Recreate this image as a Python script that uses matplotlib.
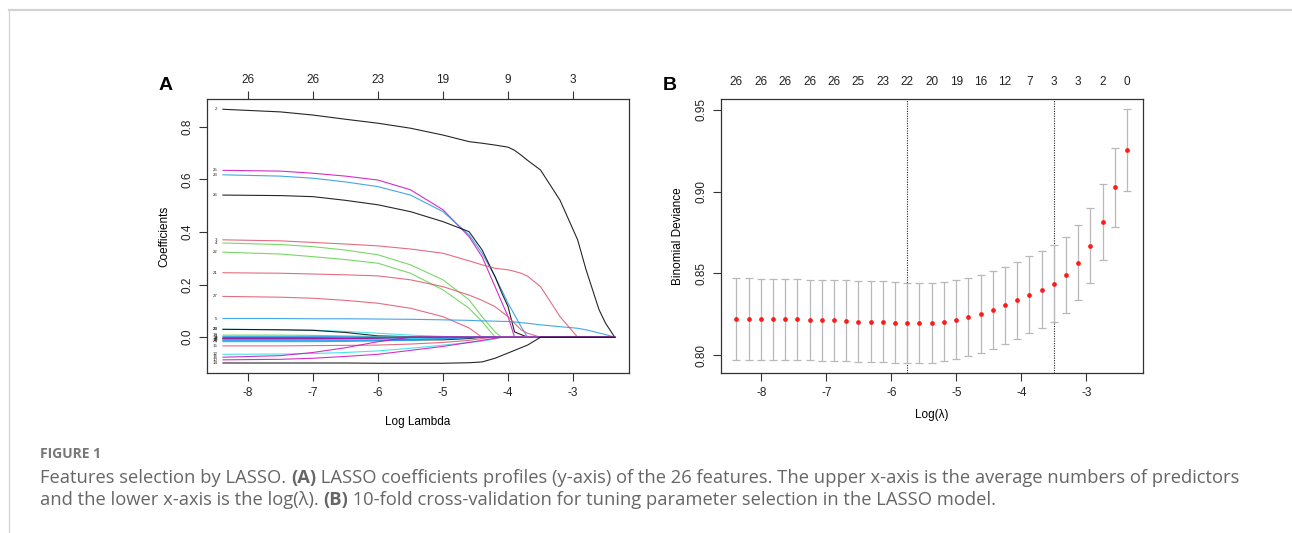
import matplotlib
matplotlib.use("Agg")
import matplotlib.pyplot as plt
import numpy as np

# couleurs de la palette R (matplot)
BLACK = "#000000"
RED = "#DF536B"
GREEN = "#61D04F"
BLUE = "#2297E6"
CYAN = "#28E2E5"
MAGENTA = "#CD0BBC"

# ---- panneau A : profils des coefficients LASSO ----
lam_a = [-8.385, -7.5, -7.0, -6.5, -6.0, -5.5, -5.0, -4.6, -4.4, -4.2, -4.1,
         -4.0, -3.9, -3.8, -3.7, -3.5, -3.2, -2.93, -2.8, -2.6, -2.5, -2.36]

coef_labels = ["2", "25", "23", "26", "3", "4", "22", "21", "27", "5", "28", "20",
               "18", "1", "19", "9", "8", "11", "24", "7", "6",
               "15", "12", "16", "10", "14"]
coef_colors = [BLACK, MAGENTA, BLUE, BLACK, RED, GREEN, GREEN, RED, RED, BLUE, CYAN, BLACK,
               GREEN, BLUE, MAGENTA, BLACK, BLUE, CYAN, BLUE, BLUE, MAGENTA,
               RED, CYAN, MAGENTA, MAGENTA, BLACK]
coefs = [
    [0.866, 0.856, 0.844, 0.828, 0.813, 0.794, 0.768, 0.743, 0.737, 0.730, 0.726,
     0.722, 0.710, 0.692, 0.672, 0.635, 0.520, 0.370, 0.256, 0.104, 0.053, 0.0],
    [0.634, 0.631, 0.623, 0.612, 0.597, 0.560, 0.484, 0.382, 0.306, 0.192, 0.135,
     0.078, 0.0, 0, 0, 0, 0, 0, 0, 0, 0, 0],
    [0.617, 0.612, 0.604, 0.590, 0.572, 0.540, 0.477, 0.389, 0.319, 0.230, 0.180,
     0.129, 0.085, 0.040, 0.0, 0, 0, 0, 0, 0, 0, 0],
    [0.540, 0.538, 0.534, 0.520, 0.503, 0.477, 0.439, 0.401, 0.332, 0.230, 0.170,
     0.116, 0.020, 0.010, 0.0, 0, 0, 0, 0, 0, 0, 0],
    [0.370, 0.366, 0.360, 0.354, 0.347, 0.335, 0.319, 0.290, 0.275, 0.262, 0.259,
     0.256, 0.250, 0.243, 0.232, 0.192, 0.078, 0.0, 0, 0, 0, 0],
    [0.358, 0.352, 0.344, 0.331, 0.313, 0.275, 0.218, 0.142, 0.078, 0.020, 0.0,
     0, 0, 0, 0, 0, 0, 0, 0, 0, 0, 0],
    [0.323, 0.316, 0.306, 0.295, 0.281, 0.243, 0.180, 0.110, 0.060, 0.0, 0,
     0, 0, 0, 0, 0, 0, 0, 0, 0, 0, 0],
    [0.245, 0.243, 0.240, 0.237, 0.233, 0.218, 0.192, 0.160, 0.140, 0.116, 0.097,
     0.078, 0.053, 0.028, 0.015, 0.0, 0, 0, 0, 0, 0, 0],
    [0.155, 0.152, 0.148, 0.140, 0.129, 0.110, 0.078, 0.035, 0.0, 0, 0,
     0, 0, 0, 0, 0, 0, 0, 0, 0, 0, 0],
    [0.071, 0.071, 0.070, 0.070, 0.069, 0.068, 0.066, 0.064, 0.062, 0.061, 0.060,
     0.060, 0.058, 0.055, 0.053, 0.047, 0.040, 0.034, 0.028, 0.016, 0.010, 0.0],
    [0.030, 0.029, 0.027, 0.022, 0.015, 0.008, 0.003, 0.0, 0, 0, 0,
     0, 0, 0, 0, 0, 0, 0, 0, 0, 0, 0],
    [0.030, 0.028, 0.026, 0.018, 0.005, 0.002, 0.0, 0, 0, 0, 0,
     0, 0, 0, 0, 0, 0, 0, 0, 0, 0, 0],
    [0.008, 0.008, 0.007, 0.005, 0.003, 0.001, 0.0, 0, 0, 0, 0,
     0, 0, 0, 0, 0, 0, 0, 0, 0, 0, 0],
    [0.003, 0.003, 0.003, 0.002, 0.001, 0.0, 0, 0, 0, 0, 0,
     0, 0, 0, 0, 0, 0, 0, 0, 0, 0, 0],
    [-0.002, -0.002, -0.002, -0.002, -0.001, 0.0, 0, 0, 0, 0, 0,
     0, 0, 0, 0, 0, 0, 0, 0, 0, 0, 0],
    [-0.004, -0.004, -0.004, -0.005, -0.006, -0.010, -0.010, -0.005, 0.0, 0, 0,
     0, 0, 0, 0, 0, 0, 0, 0, 0, 0, 0],
    [-0.008, -0.008, -0.008, -0.008, -0.007, -0.005, -0.002, 0.0, 0, 0, 0,
     0, 0, 0, 0, 0, 0, 0, 0, 0, 0, 0],
    [-0.011, -0.011, -0.010, -0.010, -0.009, -0.006, -0.003, 0.0, 0, 0, 0,
     0, 0, 0, 0, 0, 0, 0, 0, 0, 0, 0],
    [-0.013, -0.013, -0.013, -0.013, -0.013, -0.012, -0.007, -0.002, 0.0, 0, 0,
     0, 0, 0, 0, 0, 0, 0, 0, 0, 0, 0],
    [-0.017, -0.017, -0.017, -0.016, -0.014, -0.010, -0.004, 0.0, 0, 0, 0,
     0, 0, 0, 0, 0, 0, 0, 0, 0, 0, 0],
    [-0.006, -0.006, -0.006, -0.005, -0.003, -0.001, 0.0, 0, 0, 0, 0,
     0, 0, 0, 0, 0, 0, 0, 0, 0, 0, 0],
    [-0.033, -0.033, -0.032, -0.031, -0.030, -0.026, -0.020, -0.012, -0.005, 0.0, 0,
     0, 0, 0, 0, 0, 0, 0, 0, 0, 0, 0],
    [-0.065, -0.064, -0.062, -0.058, -0.052, -0.042, -0.030, -0.020, -0.015, -0.007, 0.0,
     0, 0, 0, 0, 0, 0, 0, 0, 0, 0, 0],
    [-0.076, -0.070, -0.058, -0.040, -0.017, 0.0, 0, 0, 0, 0, 0,
     0, 0, 0, 0, 0, 0, 0, 0, 0, 0, 0],
    [-0.086, -0.084, -0.080, -0.073, -0.065, -0.050, -0.035, -0.020, -0.012, -0.004, 0.0,
     0, 0, 0, 0, 0, 0, 0, 0, 0, 0, 0],
    [-0.098, -0.098, -0.098, -0.098, -0.099, -0.099, -0.099, -0.097, -0.094, -0.080, -0.070,
     -0.060, -0.050, -0.040, -0.030, 0.0, 0, 0, 0, 0, 0, 0],
]
top_ticks_a = [-8, -7, -6, -5, -4, -3]
top_labels_a = ["26", "26", "23", "19", "9", "3"]

# ---- panneau B : validation croisée ----
lam_b = [-8.385, -8.197, -8.009, -7.822, -7.634, -7.446, -7.258, -7.070, -6.882,
         -6.695, -6.507, -6.319, -6.131, -5.943, -5.755, -5.568, -5.380, -5.192,
         -5.004, -4.816, -4.628, -4.441, -4.253, -4.065, -3.877, -3.689, -3.501,
         -3.314, -3.126, -2.938, -2.750, -2.562, -2.375]
dev_mean = [0.8222, 0.8222, 0.8220, 0.8220, 0.8218, 0.8218, 0.8216, 0.8214, 0.8212,
            0.8208, 0.8204, 0.8202, 0.8200, 0.8198, 0.8196, 0.8196, 0.8198, 0.8204,
            0.8214, 0.8231, 0.8251, 0.8276, 0.8304, 0.8337, 0.8367, 0.8400, 0.8437,
            0.8490, 0.8565, 0.8669, 0.8812, 0.9027, 0.9255]
dev_up = [0.8471, 0.8469, 0.8467, 0.8465, 0.8463, 0.8463, 0.8461, 0.8459, 0.8459,
          0.8457, 0.8455, 0.8453, 0.8451, 0.8447, 0.8443, 0.8441, 0.8441, 0.8447,
          0.8457, 0.8471, 0.8490, 0.8512, 0.8539, 0.8571, 0.8604, 0.8635, 0.8671,
          0.8720, 0.8796, 0.8900, 0.9047, 0.9267, 0.9506]
dev_lo = [0.7971, 0.7971, 0.7971, 0.7969, 0.7969, 0.7967, 0.7967, 0.7965, 0.7965,
          0.7961, 0.7959, 0.7957, 0.7955, 0.7951, 0.7951, 0.7951, 0.7953, 0.7961,
          0.7973, 0.7994, 0.8012, 0.8039, 0.8067, 0.8100, 0.8133, 0.8165, 0.8204,
          0.8257, 0.8337, 0.8441, 0.8580, 0.8784, 0.9004]
top_labels_b = ["26", "26", "26", "26", "26", "25", "23", "22", "20", "19", "16",
                "12", "7", "3", "3", "2", "0"]
idx_min = 14
idx_1se = 26

caption_title = "FIGURE 1"
caption_lines = [
    [("Features selection by LASSO. ", "normal"), ("(A)", "bold"),
     (" LASSO coefficients profiles (y-axis) of the 26 features. The upper x-axis is the average numbers of predictors", "normal")],
    [("and the lower x-axis is the log(\u03bb). ", "normal"), ("(B)", "bold"),
     (" 10-fold cross-validation for tuning parameter selection in the LASSO model.", "normal")],
]

plt.rcParams["font.family"] = ["Liberation Sans", "DejaVu Sans"]
plt.rcParams["axes.unicode_minus"] = False
W, H = 1292, 533
fig = plt.figure(figsize=(W / 100, H / 100), dpi=100)

AX_COL = "#333333"
TICK_FS = 8.5


def style_axes(ax):
    for s in ax.spines.values():
        s.set_color(AX_COL)
        s.set_linewidth(0.9)
    ax.tick_params(direction="out", length=6, width=0.8, color=AX_COL,
                   labelsize=TICK_FS, labelcolor="#222222", pad=4)
    for lab in ax.get_yticklabels():
        lab.set_rotation(90)
        lab.set_va("center")


# panneau A
axA = fig.add_axes([207 / W, 1 - 373 / H, 422 / W, 274 / H])
lam = np.array(lam_a)
for lab, col, vals in zip(coef_labels, coef_colors, coefs):
    axA.plot(lam, vals, color=col, lw=0.8, alpha=0.85)
    axA.text(-8.47, vals[0], lab, fontsize=3.2, ha="right", va="center", color="#222222")
axA.set_xlim(-8.63, -2.14)
axA.set_ylim(-0.136, 0.905)
axA.set_xticks([-8, -7, -6, -5, -4, -3])
axA.set_yticks([0.0, 0.2, 0.4, 0.6, 0.8])
axA.set_yticklabels(["0.0", "0.2", "0.4", "0.6", "0.8"])
style_axes(axA)
axA.set_xlabel("Log Lambda", fontsize=TICK_FS, labelpad=12)
axA.set_ylabel("Coefficients", fontsize=TICK_FS, labelpad=8)
topA = axA.secondary_xaxis("top")
topA.set_xticks(top_ticks_a)
topA.set_xticklabels(top_labels_a)
topA.tick_params(direction="out", length=6, width=0.8, color=AX_COL,
                 labelsize=TICK_FS, labelcolor="#222222", pad=3)
topA.spines["top"].set_visible(False)
fig.text(166 / W, 1 - 86 / H, "A", fontsize=14, fontweight="bold", ha="center", va="center")

# panneau B
axB = fig.add_axes([721 / W, 1 - 373 / H, 422 / W, 274 / H])
mean = np.array(dev_mean)
axB.errorbar(lam_b, dev_mean,
             yerr=[mean - np.array(dev_lo), np.array(dev_up) - mean],
             fmt="none", ecolor="#b8b8b8", elinewidth=0.9, capsize=2.6, capthick=0.9, zorder=2)
axB.plot(lam_b, dev_mean, "o", color="#ff1a1a", markersize=3.4, markeredgewidth=0, zorder=3)
axB.axvline(lam_b[idx_min], color="#222222", lw=0.8, ls=(0, (1, 1.2)), zorder=1)
axB.axvline(lam_b[idx_1se], color="#222222", lw=0.8, ls=(0, (1, 1.2)), zorder=1)
axB.set_xlim(-8.62, -2.13)
axB.set_ylim(0.789, 0.9567)
axB.set_xticks([-8, -7, -6, -5, -4, -3])
axB.set_yticks([0.80, 0.85, 0.90, 0.95])
axB.set_yticklabels(["0.80", "0.85", "0.90", "0.95"])
style_axes(axB)
axB.set_xlabel("Log(\u03bb)", fontsize=TICK_FS, labelpad=7)
axB.set_ylabel("Binomial Deviance", fontsize=TICK_FS, labelpad=8)
topB = axB.secondary_xaxis("top")
topB.set_xticks(lam_b[::2])
topB.set_xticklabels(top_labels_b)
topB.tick_params(length=0, labelsize=TICK_FS, labelcolor="#222222", pad=8)
topB.spines["top"].set_visible(False)
fig.text(670 / W, 1 - 86 / H, "B", fontsize=14, fontweight="bold", ha="center", va="center")

# cadre et légende de la figure
fig.add_artist(plt.Line2D([9 / W, 1], [1 - 10 / H, 1 - 10 / H], color="#d2d2d2", lw=1.6))
fig.add_artist(plt.Line2D([9 / W, 9 / W], [0, 1 - 10 / H], color="#d2d2d2", lw=0.9))

CAP_FONT = ["Open Sans", "DejaVu Sans"]
fig.text(40 / W, 1 - 454 / H, caption_title, fontsize=10, fontweight="bold",
         color="#777777", family=CAP_FONT, va="center")
fig.canvas.draw()
rend = fig.canvas.get_renderer()
for i, parts in enumerate(caption_lines):
    x = 40 / W
    y = 1 - (478 + 22 * i) / H
    for txt, wt in parts:
        t = fig.text(x, y, txt, fontsize=13.2, fontweight=wt, color="#666666",
                     family=CAP_FONT, va="center")
        bb = t.get_window_extent(renderer=rend)
        x += bb.width / W

fig.savefig("out.png", dpi=100)
